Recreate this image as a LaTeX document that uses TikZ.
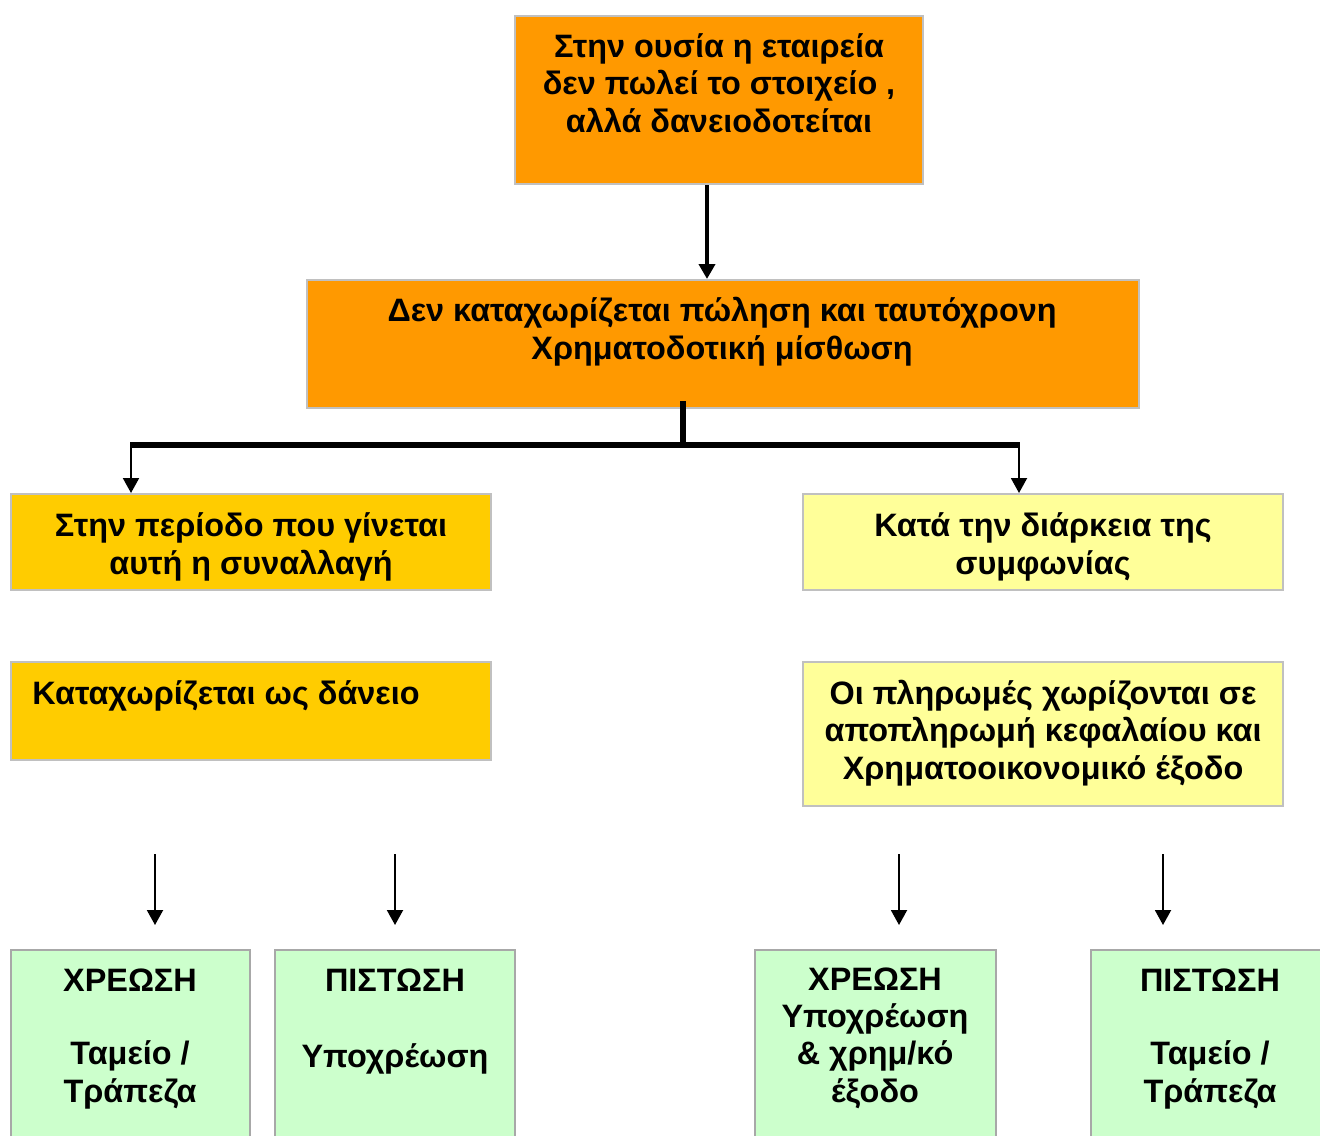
\documentclass[tikz,border=0pt]{standalone}
\usepackage{fontspec}
\setmainfont{Liberation Sans}
\usetikzlibrary{arrows.meta,fit,calc}

\definecolor{boxorange}{HTML}{FF9900}
\definecolor{boxgold}{HTML}{FFCC00}
\definecolor{boxlemon}{HTML}{FFFF99}
\definecolor{boxmint}{HTML}{CCFFCC}
\definecolor{edgegray}{HTML}{C0C0C0}
\definecolor{edgegreen}{HTML}{A8A8A8}

% captions are anchored on the baseline of their last line
\tikzset{
  panel/.style={draw=edgegray, line width=1pt, inner sep=0pt},
  ledger/.style={draw=edgegreen, line width=1pt, inner sep=0pt, fill=boxmint},
  caption/.style={inner sep=0pt, anchor=base, align=center,
    font=\fontsize{16.2}{18.6}\selectfont\bfseries},
  bigarrow/.style={line width=2pt, -{Triangle[width=8pt,length=7.5pt]}},
  bar/.style={line width=3pt},
  thinarrow/.style={line width=1pt, -{Triangle[width=8pt,length=7.5pt]}},
}

\begin{document}
\begin{tikzpicture}[x=0.5pt,y=-0.5pt]
  \clip (0,0) rectangle (1320,1135);
  \fill[white] (0,0) rectangle (1320,1135);

  % upper chain
  \node[panel, fill=boxorange, fit={(515,16) (923,184)}] (top) {};
  \node[caption] (topt) at (719,132) {Στην ουσία η εταιρεία\\δεν πωλεί το στοιχείο ,\\αλλά δανειοδοτείται};

  \node[panel, fill=boxorange, fit={(307,280) (1139,408)}] (mid) {};
  \node[caption] (midt) at (722,359) {Δεν καταχωρίζεται πώληση και ταυτόχρονη\\Χρηματοδοτική μίσθωση};

  % second level
  \node[panel, fill=boxgold, fit={(11,494) (491,590)}] (lefta) {};
  \node[caption] (leftat) at (251,574) {Στην περίοδο που γίνεται\\αυτή η συναλλαγή};

  \node[panel, fill=boxlemon, fit={(803,494) (1283,590)}] (righta) {};
  \node[caption] (rightat) at (1043,574) {Κατά την διάρκεια της\\συμφωνίας};

  \node[panel, fill=boxgold, fit={(11,662) (491,760)}] (leftb) {};
  \node[caption, anchor=base west] (leftbt) at (32,704) {Καταχωρίζεται ως δάνειο};

  \node[panel, fill=boxlemon, fit={(803,662) (1283,806)}] (rightb) {};
  \node[caption] (rightbt) at (1043,779) {Οι πληρωμές χωρίζονται σε\\αποπληρωμή κεφαλαίου και\\Χρηματοοικονομικό έξοδο};

  % journal entries
  \node[ledger, fit={(11,950) (250,1160)}] (g1) {};
  \node[caption] (g1t) at (130,1102) {ΧΡΕΩΣΗ\\[18pt]Ταμείο /\\Τράπεζα};

  \node[ledger, fit={(275,950) (515,1160)}] (g2) {};
  \node[caption] (g2t) at (395,1067) {ΠΙΣΤΩΣΗ\\[19.4pt]Υποχρέωση};

  \node[ledger, fit={(755,950) (996,1160)}] (g3) {};
  \node[caption] (g3t) at (875,1102) {ΧΡΕΩΣΗ\\Υποχρέωση\\\&\ χρημ/κό\\έξοδο};

  \node[ledger, fit={(1091,950) (1330,1160)}] (g4) {};
  \node[caption] (g4t) at (1210,1102) {ΠΙΣΤΩΣΗ\\[18pt]Ταμείο /\\Τράπεζα};

  % connectors
  \draw[bigarrow] (top.south -| 707,0) -- (mid.north -| 707,0);

  \coordinate (split) at (683,445);
  \coordinate (splitl) at (131,445);
  \coordinate (splitr) at (1019,445);
  \draw[bar] ($(mid.south -| split)+(0,-8)$) -- (split);
  \draw[bar] ($(splitl)+(-1,0)$) -- ($(splitr)+(1,0)$);
  \draw[thinarrow] (splitl) -- (lefta.north -| splitl);
  \draw[thinarrow] (splitr) -- (righta.north -| splitr);

  % free-standing arrows above the entries
  \foreach \xx/\nm in {155/a1, 395/a2, 899/a3, 1163/a4} {
    \coordinate (\nm s) at (\xx,854);
    \coordinate (\nm e) at (\xx,925);
    \draw[thinarrow] (\nm s) -- (\nm e);
  }
\end{tikzpicture}
\end{document}
